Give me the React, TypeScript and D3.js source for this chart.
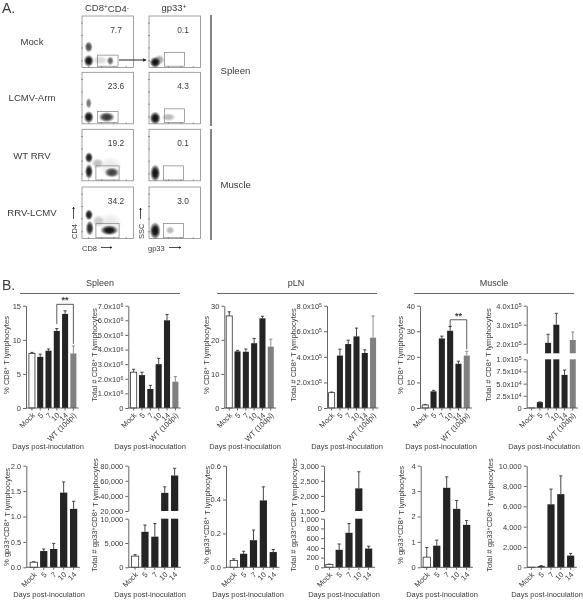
import React, { useEffect, useRef } from "react";
import * as d3 from "d3";

// panel A
const rowNames = ["Mock", "LCMV-Arm", "WT RRV", "RRV-LCMV"];
const cd8Percent = ["7.7", "23.6", "19.2", "34.2"];
const gp33Percent = ["0.1", "4.3", "0.1", "3.0"];
// [x, y, spreadX, spreadY, strength] on a 0-100 scale
const cd8Clusters = [
  [[13, 40, 8, 11, 0.75], [13, 13, 10, 12, 1], [55, 13, 7, 9, 0.6], [35, 14, 17, 9, 0.14]],
  [[13, 40, 6, 11, 0.55], [13, 13, 10, 12, 1], [48, 13, 16, 10, 0.85]],
  [[13.5, 45, 8, 11, 0.95], [13.5, 18, 8, 15, 0.95], [58, 16, 15, 10, 0.8], [30, 34, 12, 10, 0.25], [55, 28, 24, 20, 0.08]],
  [[13.5, 46, 8, 11, 0.95], [15, 20, 8, 15, 0.9], [53, 16, 18, 10, 1], [32, 34, 12, 12, 0.2], [55, 30, 24, 20, 0.08]],
];
const gp33Clusters = [
  [[12, 10, 11, 11, 1], [20, 15, 11, 10, 0.35]],
  [[12, 11, 11, 13, 1], [38, 13, 14, 8, 0.28]],
  [[12, 15, 10, 17, 1]],
  [[12, 15, 11, 17, 1], [41, 16, 9, 8, 0.28]],
];

// panel B
const days6 = ["Mock", "5", "7", "10", "14", "WT (10dpi)"];
const days5 = ["Mock", "5", "7", "10", "14"];

const spleenPct = [8.0, 7.5, 8.4, 11.3, 13.8, 8.0];
const spleenPctErr = [0.15, 0.4, 0.25, 0.35, 0.45, 1.1];
const spleenTotal = [2.45e6, 2.25e6, 1.3e6, 3.0e6, 6.0e6, 1.8e6];
const spleenTotalErr = [2e5, 2e5, 2.5e5, 4e5, 4e5, 3.5e5];
const plnPct = [27, 16.6, 16.5, 19, 26.3, 18];
const plnPctErr = [1.2, 0.3, 0.8, 1.4, 0.6, 2.2];
const plnTotal = [1.2e5, 4.1e5, 5.0e5, 5.6e5, 4.3e5, 5.5e5];
const plnTotalErr = [5e3, 5e4, 3e4, 6.5e4, 2.5e4, 1.7e5];
const musclePct = [1.2, 6.5, 27.2, 30.2, 17.3, 20.5];
const musclePctErr = [0.2, 0.4, 0.9, 1.7, 1, 1.7];
const muscleTotal = [200, 1.2e4, 2.05e5, 3.0e5, 6.8e4, 2.2e5];
const muscleTotalErr = [0, 500, 4.5e4, 6e4, 1e4, 4.2e4];

const spleenGpPct = [0.1, 0.32, 0.36, 1.47, 1.15];
const spleenGpPctErr = [0.01, 0.04, 0.11, 0.21, 0.15];
const spleenGpTotal = [2300, 7300, 6300, 44000, 67000];
const spleenGpTotalErr = [300, 1400, 2700, 8000, 9500];
const plnGpPct = [0.04, 0.08, 0.16, 0.395, 0.09];
const plnGpPctErr = [0.01, 0.015, 0.06, 0.08, 0.015];
const plnGpTotal = [60, 360, 710, 2250, 385];
const plnGpTotalErr = [5, 120, 190, 550, 50];
const muscleGpPct = [0.4, 0.85, 3.13, 2.3, 1.67];
const muscleGpPctErr = [0.38, 0.22, 0.43, 0.33, 0.17];
const muscleGpTotal = [10, 120, 6200, 7200, 1150];
const muscleGpTotalErr = [0, 40, 1500, 1800, 220];

const FONT = "'Liberation Sans', Arial, sans-serif";
const INK = "#3a3a3a";
const ROW1 = { y0: 408, top: 305.7, breakLow: 359.3, breakHigh: 353.3 };
const ROW2 = { y0: 567.3, top: 465.7, breakLow: 518.7, breakHigh: 511 };

const sci = (d) => {
  if (d === 0) return "0";
  const e = Math.floor(Math.log10(d) + 1e-9);
  return `${(d / 10 ** e).toFixed(1)}x10^${e}^`;
};
const comma = d3.format(",");

const charts = [
  { cats: days6, v: spleenPct, e: spleenPctErr, axisX: 26, first: 31, last: 74.3, row: ROW1, label: "% CD8^+^ T lymphocytes", labelX: 6, labelY: 355, ticks: [0, 5, 10, 15], max: 15, fmt: String, xLabelX: 48, xLabelY: 449 },
  { cats: days6, v: spleenTotal, e: spleenTotalErr, axisX: 128.3, first: 132.7, last: 176.3, row: ROW1, label: "Total # CD8^+^ T lymphocytes", labelX: 94, labelY: 355, ticks: [0, 1e6, 2e6, 3e6, 4e6, 5e6, 6e6, 7e6], max: 7e6, fmt: sci, xLabelX: 150, xLabelY: 449 },
  { cats: days6, v: plnPct, e: plnPctErr, axisX: 224.3, first: 228.3, last: 271.7, row: ROW1, label: "% CD8^+^ T lymphocytes", labelX: 206, labelY: 355, ticks: [0, 10, 20, 30], max: 30, fmt: String, xLabelX: 245, xLabelY: 449 },
  { cats: days6, v: plnTotal, e: plnTotalErr, axisX: 327, first: 330.7, last: 374, row: ROW1, label: "Total # CD8^+^ T lymphocytes", labelX: 293, labelY: 355, ticks: [0, 2e5, 4e5, 6e5, 8e5], max: 8e5, fmt: sci, xLabelX: 347, xLabelY: 449 },
  { cats: days6, v: musclePct, e: musclePctErr, axisX: 420, first: 424.3, last: 467.7, row: ROW1, label: "% CD8^+^ T lymphocytes", labelX: 400, labelY: 355, ticks: [0, 10, 20, 30, 40], max: 40, fmt: String, xLabelX: 441, xLabelY: 449 },
  { cats: days6, v: muscleTotal, e: muscleTotalErr, axisX: 526.7, first: 530.7, last: 573.7, row: ROW1, label: "Total # CD8^+^ T lymphocytes", labelX: 488, labelY: 355, ticks: [0, 2.5e4, 5e4, 7.5e4, 1e5], max: 1e5, fmt: sci, upper: { from: 1.5e5, to: 4e5, ticks: [2e5, 3e5, 4e5] }, xLabelX: 544, xLabelY: 449 },
  { cats: days5, v: spleenGpPct, e: spleenGpPctErr, axisX: 26.3, first: 32.7, last: 74.7, row: ROW2, label: "% gp33^+^CD8^+^ T lymphocytes", labelX: 6, labelY: 517, ticks: [0, 0.5, 1, 1.5, 2], max: 2, fmt: (d) => d.toFixed(1), xLabelX: 49, xLabelY: 597 },
  { cats: days5, v: spleenGpTotal, e: spleenGpTotalErr, axisX: 128.3, first: 134, last: 175.7, row: ROW2, label: "Total # gp33^+^CD8^+^ T lymphocytes", labelX: 94, labelY: 515, ticks: [0, 5000, 10000], max: 10000, fmt: comma, upper: { from: 20000, to: 80000, ticks: [20000, 40000, 60000, 80000] }, xLabelX: 150, xLabelY: 597 },
  { cats: days5, v: plnGpPct, e: plnGpPctErr, axisX: 226, first: 232.7, last: 274.3, row: ROW2, label: "% gp33^+^CD8^+^ T lymphocytes", labelX: 206, labelY: 515, ticks: [0, 0.2, 0.4, 0.6], max: 0.6, fmt: (d) => d.toFixed(1), xLabelX: 248, xLabelY: 597 },
  { cats: days5, v: plnGpTotal, e: plnGpTotalErr, axisX: 324, first: 328.3, last: 369.7, row: ROW2, label: "Total # gp33^+^CD8^+^ T lymphocytes", labelX: 293, labelY: 515, ticks: [0, 200, 400, 600, 800, 1000], max: 1000, fmt: comma, upper: { from: 1500, to: 3000, ticks: [1500, 2000, 2500, 3000] }, xLabelX: 344, xLabelY: 597 },
  { cats: days5, v: muscleGpPct, e: muscleGpPctErr, axisX: 420.7, first: 425.7, last: 467.7, row: ROW2, label: "% gp33^+^CD8^+^ T lymphocytes", labelX: 400, labelY: 515, ticks: [0, 1, 2, 3, 4], max: 4, fmt: String, xLabelX: 442, xLabelY: 597 },
  { cats: days5, v: muscleGpTotal, e: muscleGpTotalErr, axisX: 526.7, first: 530.3, last: 571.7, row: ROW2, label: "Total # gp33^+^CD8^+^ T lymphocytes", labelX: 489, labelY: 515, ticks: [0, 2000, 4000, 6000, 8000, 10000], max: 10000, fmt: comma, xLabelX: 547, xLabelY: 597 },
];

// "a^b^c" puts b in superscript
const richText = (sel, str) => {
  sel.text(null);
  str.split("^").forEach((part, i) => {
    if (!part) return;
    const isSup = i % 2 === 1;
    const afterSup = i > 0 && !isSup;
    sel
      .append("tspan")
      .attr("dy", isSup ? "-0.35em" : afterSup ? "0.35em" : null)
      .attr("font-size", isSup ? "70%" : null)
      .text(part);
  });
};

const addText = (g, x, y, str, size, anchor = "middle") =>
  g
    .append("text")
    .attr("x", x)
    .attr("y", y)
    .attr("font-size", size)
    .attr("text-anchor", anchor)
    .attr("fill", INK)
    .call(richText, str);

const barColor = (cat) =>
  cat === "Mock" ? "#ffffff" : cat.startsWith("WT") ? "#808080" : "#242424";

function drawFlow(svg) {
  const g = svg.append("g");
  const colX = [82, 149];
  const rowY = [16, 72.3, 129.3, 187];
  const size = 51.5;
  const gates = [
    [[30, 70, 2.5, 24], [30, 70, 2.5, 24], [27, 72, 1.5, 29], [27, 72, 1.5, 29]],
    [[30, 69, 2.5, 29], [30, 69, 2.5, 29], [28, 67, 1.5, 29], [28, 67, 1.5, 29]],
  ];
  [cd8Clusters, gp33Clusters].forEach((clusters, c) => {
    clusters.forEach((blobs, r) => {
      const x = d3.scaleLinear().domain([0, 100]).range([colX[c], colX[c] + size]);
      const y = d3.scaleLinear().domain([0, 100]).range([rowY[r] + size, rowY[r]]);
      const plot = g.append("g");
      plot
        .append("g")
        .attr("filter", "url(#soft)")
        .selectAll("ellipse")
        .data(blobs)
        .join("ellipse")
        .attr("cx", (d) => x(d[0]))
        .attr("cy", (d) => y(d[1]))
        .attr("rx", (d) => x(d[2]) - x(0))
        .attr("ry", (d) => y(0) - y(d[3]))
        .attr("fill", "url(#blob)")
        .attr("opacity", (d) => d[4]);
      plot
        .append("rect")
        .attr("x", colX[c])
        .attr("y", rowY[r])
        .attr("width", size)
        .attr("height", size)
        .attr("fill", "none")
        .attr("stroke", "#8a8a8a")
        .attr("stroke-width", 0.8);
      const gate = gates[c][r];
      plot
        .append("rect")
        .attr("x", x(gate[0]))
        .attr("y", y(gate[3]))
        .attr("width", x(gate[1]) - x(gate[0]))
        .attr("height", y(gate[2]) - y(gate[3]))
        .attr("fill", "none")
        .attr("stroke", "#808080")
        .attr("stroke-width", 0.7);
      // frame ticks
      const ticks = [13, 38, 62, 86];
      plot
        .selectAll("line.tx")
        .data(ticks)
        .join("line")
        .attr("class", "tx")
        .attr("x1", (d) => x(d))
        .attr("x2", (d) => x(d))
        .attr("y1", y(0))
        .attr("y2", y(0) - 1.5)
        .attr("stroke", "#666")
        .attr("stroke-width", 0.6);
      plot
        .selectAll("line.ty")
        .data(ticks)
        .join("line")
        .attr("class", "ty")
        .attr("y1", (d) => y(d))
        .attr("y2", (d) => y(d))
        .attr("x1", x(0) - 1)
        .attr("x2", x(0) + 1)
        .attr("stroke", "#666")
        .attr("stroke-width", 0.6);
      addText(g, x(66), rowY[r] + 16.5, (c === 0 ? cd8Percent : gp33Percent)[r], 8.4);
    });
  });

  addText(g, 2, 13, "A.", 14, "start");
  addText(g, 107, 11, "CD8^+^CD4^-^", 9.5);
  addText(g, 174, 11, "gp33^+^", 9.5);
  const rowLabelY = [45, 101, 158.5, 216];
  rowNames.forEach((name, i) => addText(g, 32, rowLabelY[i], name, 9.6));
  addText(g, 220.5, 74, "Spleen", 9.6, "start");
  addText(g, 220.5, 187.5, "Muscle", 9.6, "start");
  [[15, 126], [129, 240]].forEach(([a, b]) =>
    g.append("line").attr("x1", 211).attr("x2", 211).attr("y1", a).attr("y2", b).attr("stroke", "#666").attr("stroke-width", 1.6)
  );

  // axis names and arrows
  addText(g, 82, 251, "CD8", 7.5, "start");
  addText(g, 148, 251, "gp33", 7.5, "start");
  addText(g, 0, 0, "CD4", 7.5, "start").attr("transform", "translate(76.5,239) rotate(-90)");
  addText(g, 0, 0, "SSC", 7.5, "start").attr("transform", "translate(143.5,239) rotate(-90)");
  const arrow = (x1, y1, x2, y2, w = 0.8) =>
    g.append("line").attr("x1", x1).attr("y1", y1).attr("x2", x2).attr("y2", y2)
      .attr("stroke", "#222").attr("stroke-width", w).attr("marker-end", "url(#head)");
  arrow(119, 60, 146, 60, 1);
  arrow(101, 247.5, 112, 247.5);
  arrow(169, 247.5, 181, 247.5);
  arrow(73.5, 219, 73.5, 207);
  arrow(140.5, 219, 140.5, 208);
}

function drawChart(svg, c) {
  const g = svg.append("g");
  const { row } = c;
  const step = (c.last - c.first) / (c.cats.length - 1);
  const x = d3
    .scaleBand()
    .domain(c.cats)
    .range([c.first - step / 2, c.last + step / 2])
    .padding(0.27);

  // a broken axis has two stacked scales
  const lowTop = c.upper ? row.breakLow : row.top;
  const low = d3.scaleLinear().domain([0, c.max]).range([row.y0, lowTop]);
  const segs = [{ scale: low, from: 0, to: c.max, ticks: c.ticks }];
  if (c.upper) {
    segs.push({
      scale: d3.scaleLinear().domain([c.upper.from, c.upper.to]).range([row.breakHigh, row.top]),
      from: c.upper.from,
      to: c.upper.to,
      ticks: c.upper.ticks,
    });
  }

  segs.forEach((s) => {
    const seen = c.cats.map((cat, i) => ({ cat, v: c.v[i], e: c.e[i] }));
    // whiskers go first so the bar covers their lower half
    g.selectAll(null)
      .data(seen.filter((d) => d.v >= s.from && d.v <= s.to && d.e > 0))
      .join("path")
      .attr("d", (d) => {
        const cx = x(d.cat) + x.bandwidth() / 2;
        const y2 = s.scale(d.v + d.e);
        return `M${cx},${s.scale(d.v)}V${y2}M${cx - 1.6},${y2}H${cx + 1.6}`;
      })
      .attr("fill", "none")
      .attr("stroke", (d) => (d.cat.startsWith("WT") ? "#808080" : "#333"))
      .attr("stroke-width", 0.9);
    g.selectAll(null)
      .data(seen.filter((d) => d.v > s.from))
      .join("rect")
      .attr("x", (d) => x(d.cat))
      .attr("width", x.bandwidth())
      .attr("y", (d) => s.scale(Math.min(d.v, s.to)))
      .attr("height", (d) => s.scale(s.from) - s.scale(Math.min(d.v, s.to)))
      .attr("fill", (d) => barColor(d.cat))
      .attr("stroke", (d) => (d.cat === "Mock" ? "#333" : "none"))
      .attr("stroke-width", 0.8);

    const axis = g
      .append("g")
      .attr("transform", `translate(${c.axisX},0)`)
      .call(d3.axisLeft(s.scale).tickValues(s.ticks).tickSize(3).tickPadding(2).tickSizeOuter(0).tickFormat(c.fmt));
    axis.selectAll(".tick text").each(function (d) {
      const t = d3.select(this);
      const str = c.fmt(d);
      if (str.includes("^")) richText(t, str);
    });
    axis.selectAll("text").attr("font-size", 7.5).attr("font-family", FONT).attr("fill", INK);
    axis.selectAll("path,line").attr("stroke", "#555").attr("stroke-width", 0.9);
  });

  const xAxis = g
    .append("g")
    .attr("transform", `translate(0,${row.y0})`)
    .call(d3.axisBottom(x).tickSize(2.5).tickSizeOuter(0));
  xAxis.select(".domain").attr("d", `M${c.axisX},0H${c.last + step / 2}`);
  xAxis.selectAll("path,line").attr("stroke", "#555").attr("stroke-width", 0.9);
  xAxis
    .selectAll("text")
    .attr("font-size", 7.5)
    .attr("font-family", FONT)
    .attr("fill", INK)
    .attr("text-anchor", "end")
    .attr("x", 0)
    .attr("y", 0)
    .attr("dy", "0.35em")
    .attr("transform", "translate(1.5,6) rotate(-45)");

  addText(g, 0, 0, c.label, 7.6).attr("transform", `translate(${c.labelX + 2.5},${c.labelY}) rotate(-90)`);
  addText(g, c.xLabelX, c.xLabelY, "Days post-inoculation", 7.5);
  return { x, low };
}

function drawBracket(svg, chart, y1, y2, top) {
  const { x, low } = chart;
  const ax = x("10") + x.bandwidth() / 2;
  const bx = x("WT (10dpi)") + x.bandwidth() / 2;
  svg
    .append("path")
    .attr("d", `M${ax},${low(y1)}V${low(top)}H${bx}V${low(y2)}`)
    .attr("fill", "none")
    .attr("stroke", "#333")
    .attr("stroke-width", 0.8);
  addText(svg, (ax + bx) / 2, low(top) - 1, "**", 9).attr("font-weight", "bold");
}

export default function App() {
  const svgRef = useRef(null);

  useEffect(() => {
    const svg = d3.select(svgRef.current);
    svg.selectAll("*").remove();
    svg.attr("font-family", FONT);

    const defs = svg.append("defs");
    const grad = defs.append("radialGradient").attr("id", "blob");
    [[0, 1], [0.45, 0.9], [0.75, 0.4], [1, 0]].forEach(([o, a]) =>
      grad.append("stop").attr("offset", o).attr("stop-color", "#0a0a0a").attr("stop-opacity", a)
    );
    defs.append("filter").attr("id", "soft").append("feGaussianBlur").attr("stdDeviation", 0.7);
    defs
      .append("marker")
      .attr("id", "head")
      .attr("viewBox", "0 0 6 6")
      .attr("refX", 5)
      .attr("refY", 3)
      .attr("markerWidth", 3.5)
      .attr("markerHeight", 3.5)
      .attr("orient", "auto")
      .append("path")
      .attr("d", "M0,0L6,3L0,6z")
      .attr("fill", "#222");

    drawFlow(svg);

    addText(svg, 2, 290, "B.", 14, "start");
    [["Spleen", 100, 20, 180], ["pLN", 296, 217, 377], ["Muscle", 494, 414, 574]].forEach(([name, cx, a, b]) => {
      addText(svg, cx, 286, name, 9);
      svg.append("line").attr("x1", a).attr("x2", b).attr("y1", 293.5).attr("y2", 293.5).attr("stroke", "#444").attr("stroke-width", 0.8);
    });

    const drawn = charts.map((c) => drawChart(svg, c));
    drawBracket(svg, drawn[0], 12.3, 9.4, 15.2);
    drawBracket(svg, drawn[4], 31.5, 23, 34.5);
  }, []);

  return (
    <svg
      ref={svgRef}
      width={583}
      height={601}
      style={{ position: "absolute", left: 0, top: 0, background: "#fff", filter: "blur(0.3px)" }}
    />
  );
}
